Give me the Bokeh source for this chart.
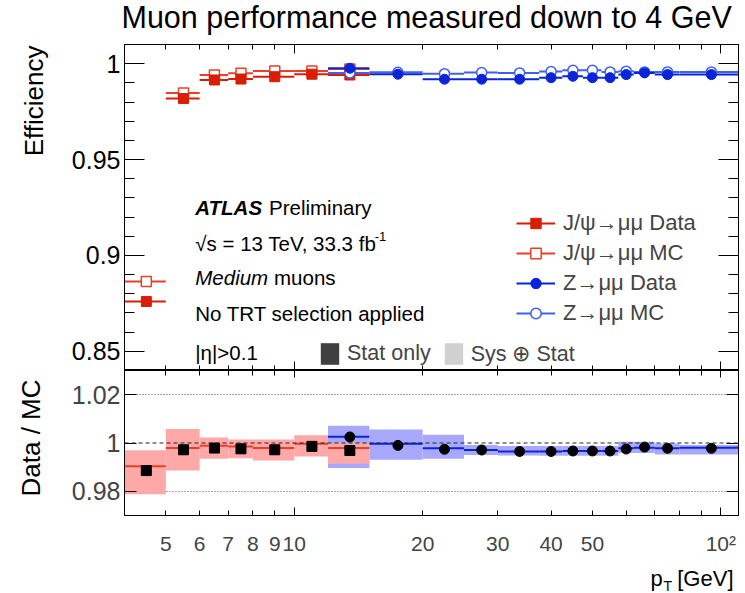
import math
from bokeh.plotting import figure
from bokeh.layouts import column, row
from bokeh.models import (LogAxis, LinearAxis, FixedTicker, CustomJSTickFormatter, Label,
                          ColumnDataSource, Span, Grid, Legend, LegendItem)
from bokeh.embed import file_html
from bokeh.resources import INLINE

# ---------------- data ----------------
jpsi_lo = [4, 5, 6, 7, 8, 10, 12]
jpsi_hi = [5, 6, 7, 8, 10, 12, 15]
jpsi_data = [0.8760, 0.9818, 0.9915, 0.9920, 0.9932, 0.9945, 0.9941]
jpsi_mc = [0.8864, 0.9847, 0.9941, 0.9950, 0.9962, 0.9962, 0.9972]
jpsi_ratio = [0.9886, 0.9972, 0.9979, 0.9976, 0.9972, 0.9986, 0.9969]
jpsi_ratio_line = [0.9904, 0.9979, 0.9989, 0.9986, 0.9979, 0.9997, 0.9979]
jpsi_band_lo = [0.9788, 0.9886, 0.9935, 0.9937, 0.9928, 0.9944, 0.9914]
jpsi_band_hi = [0.9970, 1.0058, 1.0023, 1.0014, 1.0014, 1.0032, 1.0000]

z_lo = [12, 15, 20, 25, 30, 37.5, 42.5, 47.5, 52.5, 57.5, 62.5, 70, 80]
z_hi = [15, 20, 25, 30, 37.5, 42.5, 47.5, 52.5, 57.5, 62.5, 70, 80, 110]
z_data = [0.9976, 0.9945, 0.9919, 0.9919, 0.9919, 0.9927, 0.9934, 0.9927, 0.9927,
          0.9943, 0.9952, 0.9943, 0.9943]
z_mc = [0.9951, 0.9955, 0.9948, 0.9954, 0.9952, 0.9959, 0.9966, 0.9966, 0.9957,
        0.9961, 0.9957, 0.9957, 0.9957]
z_ratio = [1.0025, 0.9990, 0.9974, 0.9971, 0.9965, 0.9965, 0.9967, 0.9967, 0.9967,
           0.9975, 0.9983, 0.9978, 0.9978]
z_ratio_line = [1.0026, 0.9997, 0.9978, 0.9971, 0.9965, 0.9965, 0.9967, 0.9967, 0.9967,
                0.9978, 0.9980, 0.9978, 0.9980]
z_band_lo = [0.9897, 0.9931, 0.9935, 0.9950, 0.9948, 0.9947, 0.9947, 0.9947, 0.9947,
             0.9959, 0.9959, 0.9952, 0.9952]
z_band_hi = [1.0071, 1.0056, 1.0034, 0.9992, 0.9988, 0.9988, 0.9988, 0.9988, 0.9988,
             1.0005, 1.0005, 0.9998, 0.9992]

x_label_ticks = [5, 6, 7, 8, 9, 10, 20, 30, 40, 50, 100]
x_major_ticks = [10, 100]
x_minor_ticks = [5, 6, 7, 8, 9, 20, 30, 40, 50, 60, 70, 80, 90]
top_y_ticks = [0.85, 0.9, 0.95, 1.0]
top_y_minor = [0.84, 0.86, 0.87, 0.88, 0.89, 0.91, 0.92, 0.93, 0.94, 0.96, 0.97, 0.98, 0.99, 1.01]
bot_y_ticks = [0.98, 1.0, 1.02]

X_RANGE = (4, 110)
Y_TOP = (0.84, 1.01)
Y_BOT = (0.97, 1.03)

FONT = "Liberation Sans"
RED_D = "#d81e05"
RED_MC = "#e8402a"
BLUE_D = "#0a24d8"
BLUE_MC = "#4060ee"

# page geometry (pixels)
W = 745
STRIP_L = 68          # left strip holding the y-axis titles
FL, FR = 122, 738     # frame left/right
T_TOP, T_BOT = 44, 370
B_TOP, B_BOT = 370, 515
P2_BOTTOM_BORDER = 42
XLAB_TOP = B_BOT + P2_BOTTOM_BORDER
H_TOTAL = 593


def px_x(px):
    return X_RANGE[0] * (X_RANGE[1] / X_RANGE[0]) ** ((px - FL) / (FR - FL))


def py_top(py):
    return Y_TOP[1] - (py - T_TOP) * (Y_TOP[1] - Y_TOP[0]) / (T_BOT - T_TOP)


def centers(lo, hi):
    return [(a + b) / 2 for a, b in zip(lo, hi)]


def tick_axis(cls, ticker, tin, tmin):
    return cls(ticker=ticker, major_tick_in=tin, major_tick_out=0,
               minor_tick_in=tmin, minor_tick_out=0,
               major_label_text_font_size="0.1px", major_label_text_alpha=0,
               major_label_standoff=0, axis_line_color="black")


def strip(w, h, frame_h=None, bottom_border=0):
    fh = h if frame_h is None else frame_h
    s = figure(width=w, height=h, x_range=(0, w), y_range=(fh, 0),
               output_backend="svg", toolbar_location=None,
               x_axis_location=None, y_axis_location=None,
               min_border_left=0, min_border_right=0, min_border_top=0,
               min_border_bottom=bottom_border)
    s.grid.visible = False
    s.outline_line_color = None
    s.background_fill_color = "white"
    s.border_fill_color = "white"
    return s


def slab(s, text, x, y, size, align="left", style="normal", angle=0.0):
    s.add_layout(Label(x=x, y=y, text=text, text_font=FONT, text_font_size=size,
                       text_align=align, text_baseline="middle", text_font_style=style,
                       angle=angle, text_color="black"))


fmt_y = CustomJSTickFormatter(code="return String(Math.round(tick*1000)/1000);")
fmt_x = CustomJSTickFormatter(code="return tick >= 100 ? '10\u00b2' : tick.toFixed(0);")

# ---------------- title strip ----------------
title_fig = strip(W, T_TOP)
slab(title_fig, "Muon performance measured down to 4 GeV", 121, 16.5, "30.5px")

# ---------------- top panel ----------------
p1 = figure(width=W - STRIP_L, height=T_BOT - T_TOP, x_axis_type="log", x_range=X_RANGE,
            y_range=Y_TOP, output_backend="svg", toolbar_location=None,
            x_axis_location=None, y_axis_location=None,
            min_border_left=FL - STRIP_L, min_border_right=W - FR, min_border_top=0,
            min_border_bottom=0)
p1.grid.visible = False
p1.outline_line_color = "black"
p1.background_fill_color = "white"
p1.border_fill_color = "white"

xt1 = FixedTicker(ticks=x_major_ticks, minor_ticks=x_minor_ticks)
p1.add_layout(tick_axis(LogAxis, xt1, 9, 5), "below")
p1.add_layout(tick_axis(LogAxis, xt1, 9, 5), "above")
yt1 = FixedTicker(ticks=top_y_ticks, minor_ticks=top_y_minor)
ly1 = LinearAxis(ticker=yt1, formatter=fmt_y, major_tick_in=20, major_tick_out=0,
                 minor_tick_in=10, minor_tick_out=0, major_label_standoff=4,
                 major_label_text_font=FONT, major_label_text_font_size="25px",
                 major_label_text_color="black")
p1.add_layout(ly1, "left")
p1.add_layout(tick_axis(LinearAxis, yt1, 20, 10), "right")

js = ColumnDataSource(dict(lo=jpsi_lo, hi=jpsi_hi, x=centers(jpsi_lo, jpsi_hi),
                           data=jpsi_data, mc=jpsi_mc, blo=jpsi_band_lo, bhi=jpsi_band_hi))
zs = ColumnDataSource(dict(lo=z_lo, hi=z_hi, x=centers(z_lo, z_hi), data=z_data, mc=z_mc))

r_jmc_l = p1.segment(x0="lo", x1="hi", y0="mc", y1="mc", source=js, line_color=RED_MC, line_width=2)
r_jmc_m = p1.scatter("x", "mc", source=js, marker="square", size=10, fill_color="white",
                     line_color=RED_MC, line_width=1.5)
r_jd_l = p1.segment(x0="lo", x1="hi", y0="data", y1="data", source=js, line_color=RED_D, line_width=2)
r_jd_m = p1.scatter("x", "data", source=js, marker="square", size=10, fill_color=RED_D,
                    line_color=RED_D)
r_zmc_l = p1.segment(x0="lo", x1="hi", y0="mc", y1="mc", source=zs, line_color=BLUE_MC, line_width=2)
r_zmc_m = p1.scatter("x", "mc", source=zs, marker="circle", size=10, fill_color="white",
                     line_color=BLUE_MC, line_width=1.5)
r_zd_l = p1.segment(x0="lo", x1="hi", y0="data", y1="data", source=zs, line_color=BLUE_D, line_width=2)
r_zd_m = p1.scatter("x", "data", source=zs, marker="circle", size=10, fill_color=BLUE_D,
                    line_color=BLUE_D)

leg = Legend(items=[
    LegendItem(label="J/\u03c8\u2192\u03bc\u03bc Data", renderers=[r_jd_l, r_jd_m]),
    LegendItem(label="J/\u03c8\u2192\u03bc\u03bc MC", renderers=[r_jmc_l, r_jmc_m]),
    LegendItem(label="Z\u2192\u03bc\u03bc Data", renderers=[r_zd_l, r_zd_m]),
    LegendItem(label="Z\u2192\u03bc\u03bc MC", renderers=[r_zmc_l, r_zmc_m]),
], location=(514 - FL, T_BOT - 326), padding=0, margin=0, spacing=4,
    glyph_width=39, glyph_height=26, label_height=26, label_standoff=8,
    label_text_font=FONT, label_text_font_size="22px",
    border_line_color=None, background_fill_alpha=0)
p1.add_layout(leg, "center")

# hidden proxy renderers for the uncertainty-style legend boxes
r_stat = p1.quad(left="lo", right="hi", top="bhi", bottom="blo", source=js,
                 fill_color="#404040", line_color=None, visible=False)
r_sys = p1.quad(left="lo", right="hi", top="bhi", bottom="blo", source=js,
                fill_color="#d0d0d0", line_color=None, visible=False)
leg2 = Legend(items=[LegendItem(label="Stat only", renderers=[r_stat]),
                     LegendItem(label="Sys \u2295 Stat", renderers=[r_sys])],
              orientation="horizontal", location=(316 - FL, T_BOT - 367), padding=0, margin=0,
              spacing=11, glyph_width=23, glyph_height=27, label_height=27, label_standoff=6,
              label_text_font=FONT, label_text_font_size="21.5px",
              border_line_color=None, background_fill_alpha=0)
p1.add_layout(leg2, "center")


def lab(p, text, xpx, y, size, style="normal"):
    p.add_layout(Label(x=px_x(xpx), y=y, text=text, text_font=FONT, text_font_size=size,
                       text_align="left", text_baseline="middle", text_font_style=style,
                       text_color="black"))


lab(p1, "ATLAS", 193, py_top(207), "20.5px", style="bold italic")
lab(p1, "Preliminary", 267, py_top(207), "20.5px")
lab(p1, "\u221as = 13 TeV, 33.3 fb", 193, py_top(243), "20.5px")
lab(p1, "-1", 373, py_top(236), "13px")
lab(p1, "Medium", 193, py_top(277), "20.5px", style="italic")
lab(p1, "muons", 272, py_top(277), "20.5px")
lab(p1, "No TRT selection applied", 193, py_top(313), "20.5px")
lab(p1, "|\u03b7|>0.1", 193, py_top(352), "20.5px")

eff_fig = strip(STRIP_L, T_BOT - T_TOP)
slab(eff_fig, "Efficiency", 33, 1, "26px", align="right", angle=math.pi / 2)

# ---------------- ratio panel ----------------
p2 = figure(width=W - STRIP_L, height=B_BOT - B_TOP + P2_BOTTOM_BORDER, x_axis_type="log",
            x_range=p1.x_range, y_range=Y_BOT, output_backend="svg", toolbar_location=None,
            x_axis_location=None, y_axis_location=None,
            min_border_left=FL - STRIP_L, min_border_right=W - FR, min_border_top=0,
            min_border_bottom=P2_BOTTOM_BORDER)
p2.grid.visible = False
p2.outline_line_color = "black"
p2.background_fill_color = "white"
p2.border_fill_color = "white"

p2.add_layout(Grid(dimension=1, ticker=FixedTicker(ticks=[bot_y_ticks[0], bot_y_ticks[2]]),
                   grid_line_color="#555555", grid_line_dash="1 2", grid_line_width=1))

xt2 = FixedTicker(ticks=x_major_ticks, minor_ticks=x_minor_ticks)
p2.add_layout(tick_axis(LogAxis, xt2, 8, 5), "below")
lx2 = LogAxis(ticker=FixedTicker(ticks=x_label_ticks), formatter=fmt_x,
              major_tick_in=0, major_tick_out=0, minor_tick_in=0, minor_tick_out=0,
              axis_line_color=None, major_label_standoff=16,
              major_label_text_font=FONT, major_label_text_font_size="21px")
p2.add_layout(lx2, "below")
p2.add_layout(tick_axis(LogAxis, xt2, 7, 5), "above")
yt2 = FixedTicker(ticks=bot_y_ticks)
ly2 = LinearAxis(ticker=yt2, formatter=fmt_y, major_tick_in=12, major_tick_out=0,
                 minor_tick_in=0, minor_tick_out=0, major_label_standoff=4,
                 major_label_text_font=FONT, major_label_text_font_size="25px")
p2.add_layout(ly2, "left")
p2.add_layout(tick_axis(LinearAxis, yt2, 12, 0), "right")

jr = ColumnDataSource(dict(lo=jpsi_lo, hi=jpsi_hi, x=centers(jpsi_lo, jpsi_hi), r=jpsi_ratio,
                           rl=jpsi_ratio_line, blo=jpsi_band_lo, bhi=jpsi_band_hi))
zr = ColumnDataSource(dict(lo=z_lo, hi=z_hi, x=centers(z_lo, z_hi), r=z_ratio,
                           rl=z_ratio_line, blo=z_band_lo, bhi=z_band_hi))

p2.quad(left="lo", right="hi", bottom="blo", top="bhi", source=zr, fill_color="#a8a8ff", line_color=None)
p2.quad(left="lo", right="hi", bottom="blo", top="bhi", source=jr, fill_color="#ffa8a8", line_color=None)
p2.segment(x0="lo", x1="hi", y0="rl", y1="rl", source=zr, line_color=BLUE_D, line_width=2)
p2.segment(x0="lo", x1="hi", y0="rl", y1="rl", source=jr, line_color=RED_MC, line_width=2)
p2.add_layout(Span(location=1.0, dimension="width", line_color="#222222", line_dash="4 3",
                   line_width=1))
p2.scatter("x", "r", source=zr, marker="circle", size=10, fill_color="black", line_color="black")
p2.scatter("x", "r", source=jr, marker="square", size=10, fill_color="black", line_color="black")

# this strip's frame lines up with the ratio frame (370-515); coordinates are local to it
dm_fig = strip(STRIP_L, B_BOT - B_TOP + P2_BOTTOM_BORDER, frame_h=B_BOT - B_TOP,
               bottom_border=P2_BOTTOM_BORDER)
slab(dm_fig, "Data / MC", 30, 496 - B_TOP, "26px", align="left", angle=math.pi / 2)

# ---------------- x-axis title strip ----------------
xlab_fig = strip(W, H_TOTAL - XLAB_TOP)
slab(xlab_fig, "p", 650, 577.5 - XLAB_TOP, "22px")
slab(xlab_fig, "T", 663, 585 - XLAB_TOP, "14px")
slab(xlab_fig, "[GeV]", 733, 577.5 - XLAB_TOP, "22px", align="right")

layout = column(title_fig, row(eff_fig, p1, spacing=0), row(dm_fig, p2, spacing=0), xlab_fig,
                spacing=0)
open("out.html", "w").write(file_html(layout, INLINE))
